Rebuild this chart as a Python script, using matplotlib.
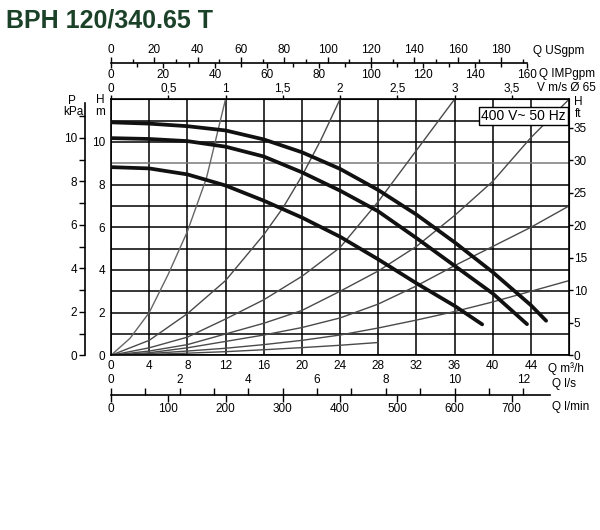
import matplotlib
matplotlib.use("Agg")
import matplotlib.pyplot as plt

plt.rcParams['font.family'] = ['Liberation Sans Narrow', 'Liberation Sans', 'DejaVu Sans']
plt.rcParams['font.size'] = 8.5

# ── Data (Q in m3/h, H in m) ────────────────────────────────────────────────

# pump curves (thick)
q_max = [0, 4, 8, 12, 16, 20, 24, 28, 32, 36, 40, 44, 45.6]
h_max = [10.92, 10.86, 10.74, 10.54, 10.12, 9.52, 8.74, 7.75, 6.6, 5.3, 3.9, 2.35, 1.62]
q_mid = [0, 4, 8, 12, 16, 20, 24, 28, 32, 36, 40, 43.6]
h_mid = [10.18, 10.14, 10.04, 9.78, 9.32, 8.58, 7.72, 6.75, 5.5, 4.2, 2.9, 1.46]
q_min = [0, 4, 8, 12, 16, 20, 24, 28, 32, 36, 38.9]
h_min = [8.82, 8.76, 8.48, 7.96, 7.25, 6.46, 5.56, 4.5, 3.38, 2.32, 1.45]

# system curves (thin)
q_s1 = [0, 2, 4, 6, 8, 10, 12]
h_s1 = [0, 0.8, 2.0, 3.8, 5.8, 8.3, 12.0]
q_s2 = [0, 4, 8, 12, 16, 18, 20, 22, 24]
h_s2 = [0, 0.7, 1.95, 3.5, 5.65, 6.9, 8.4, 10.1, 12.0]
q_s3 = [0, 4, 8, 12, 16, 20, 24, 28, 32, 36]
h_s3 = [0, 0.35, 0.85, 1.7, 2.6, 3.7, 5.05, 7.2, 9.6, 12.0]
q_s4 = [0, 4, 8, 12, 16, 20, 24, 28, 32, 36, 40, 44, 48]
h_s4 = [0, 0.2, 0.5, 1.0, 1.5, 2.1, 3.0, 3.95, 5.1, 6.55, 8.15, 10.2, 12.0]
q_s5 = [0, 4, 8, 12, 16, 20, 24, 28, 32, 36, 40, 44, 48]
h_s5 = [0, 0.12, 0.35, 0.65, 0.95, 1.3, 1.75, 2.4, 3.25, 4.2, 5.1, 6.0, 7.0]
q_s6 = [0, 4, 8, 12, 16, 20, 24, 28, 32, 36, 40, 44, 48]
h_s6 = [0, 0.08, 0.2, 0.33, 0.5, 0.7, 0.95, 1.28, 1.65, 2.05, 2.5, 3.0, 3.5]
q_s7 = [0, 4, 8, 12, 16, 20, 24, 28]
h_s7 = [0, 0.04, 0.1, 0.17, 0.26, 0.36, 0.47, 0.6]

# axis ticks / labels
q_ticks = list(range(0, 48, 4))
h_ticks = list(range(0, 12))
p_major = [0, 2, 4, 6, 8, 10]
p_minor = [1, 3, 5, 7, 9, 11]
ft_ticks = [0, 5, 10, 15, 20, 25, 30, 35]
v_ticks = [0, 0.5, 1, 1.5, 2, 2.5, 3, 3.5]
v_labels = ["0", "0,5", "1", "1,5", "2", "2,5", "3", "3,5"]
us_major = list(range(0, 200, 20))
us_minor = list(range(10, 200, 20))
imp_major = list(range(0, 180, 20))
imp_minor = list(range(10, 170, 20))
ls_major = [0, 2, 4, 6, 8, 10, 12]
ls_minor = [1, 3, 5, 7, 9, 11]
lmin_major = [0, 100, 200, 300, 400, 500, 600, 700]

# ── Layout helpers (pixel positions of the 600x530 picture) ──────────────────
W, HP = 600, 530
X0, X1, Y0, Y1 = 111, 569, 355.3, 99.3


def fx(px):
    return px / W


def fy(py):
    return 1 - py / HP


def ay(py):
    return (Y0 - py) / (Y0 - Y1)


def axx(px):
    return (px - X0) / (X1 - X0)


fig = plt.figure(figsize=(6, 5.3), dpi=100)
ax = fig.add_axes([fx(X0), fy(Y0), (X1 - X0) / W, (Y0 - Y1) / HP])
ax.set_xlim(0, 48)
ax.set_ylim(0, 12)

for s in ax.spines.values():
    s.set_linewidth(1.2)

ax.set_xticks(q_ticks, [str(q) for q in q_ticks])
ax.set_yticks(h_ticks, [str(h) if h % 2 == 0 else "" for h in h_ticks])
ax.tick_params(axis="both", length=0)
ax.tick_params(axis="x", pad=3.4)
ax.tick_params(axis="y", pad=4.3)
ax.grid(True, color="black", lw=1.1, zorder=0)
ax.yaxis.get_gridlines()[9].set_color("#7a7a7a")
ax.set_axisbelow(True)

# system curves
thin = dict(color="#4a4a4a", lw=1.0, zorder=2)
ax.plot(q_s1, h_s1, color="#666666", lw=1.0, zorder=2)
ax.plot(q_s2, h_s2, **thin)
ax.plot(q_s3, h_s3, **thin)
ax.plot(q_s4, h_s4, **thin)
ax.plot(q_s5, h_s5, **thin)
ax.plot(q_s6, h_s6, **thin)
ax.plot(q_s7, h_s7, **thin)

# pump curves
thick = dict(color="#111111", lw=2.7, zorder=3, solid_capstyle="round")
ax.plot(q_max, h_max, **thick)
ax.plot(q_mid, h_mid, **thick)
ax.plot(q_min, h_min, **thick)

ax.text(43.2, 11.2, "400 V~ 50 Hz", ha="center", va="center", fontsize=10,
        zorder=5, bbox=dict(boxstyle="square,pad=0.15", fc="white", ec="black", lw=1.0))

# ── Secondary scales ─────────────────────────────────────────────────────────
# P kPa (left)
pax = ax.secondary_yaxis(axx(85), functions=(lambda h: h * 0.981, lambda p: p / 0.981))
pax.set_yticks(p_major, [str(p) for p in p_major])
pax.set_yticks(p_minor, minor=True)
pax.tick_params(which="both", length=4, width=1, pad=1.5)
pax.spines["left"].set_linewidth(1.2)
pax.spines["left"].set_bounds(0, 11.6)

# H ft (right)
fax = ax.secondary_yaxis("right", functions=(lambda h: h * 3.2808, lambda f: f / 3.2808))
fax.set_yticks(ft_ticks, [str(f) for f in ft_ticks])
fax.tick_params(length=3, width=1, pad=0.5)

# V m/s (top of plot)
vax = ax.secondary_xaxis("top", functions=(lambda q: q / 12, lambda v: v * 12))
vax.set_xticks(v_ticks, v_labels)
vax.tick_params(length=3, width=1, pad=0.3)

# Q USgpm / Q IMPgpm (double scale on top)
loc_top = ay(63.3)
usax = ax.secondary_xaxis(loc_top, functions=(lambda q: q * 4.403, lambda g: g / 4.403))
usax.set_alignment("top")
usax.set_xticks(us_major, [str(g) for g in us_major])
usax.set_xticks(us_minor, minor=True)
usax.tick_params(which="major", length=4, width=1, pad=1.5)
usax.tick_params(which="minor", length=3, width=1)
usax.spines["top"].set_linewidth(1.2)
usax.spines["top"].set_bounds(0, 43.6 * 4.403)

impax = ax.secondary_xaxis(loc_top, functions=(lambda q: q * 3.666, lambda g: g / 3.666))
impax.set_alignment("bottom")
impax.set_xticks(imp_major, [str(g) for g in imp_major])
impax.set_xticks(imp_minor, minor=True)
impax.tick_params(which="major", length=3.5, width=1, pad=0.3)
impax.tick_params(which="minor", length=3, width=1)
impax.spines["bottom"].set_visible(False)

# Q l/s / Q l/min (double scale at bottom)
loc_bot = ay(395)
lsax = ax.secondary_xaxis(loc_bot, functions=(lambda q: q / 3.6, lambda s: s * 3.6))
lsax.set_alignment("top")
lsax.set_xticks(ls_major, [str(s) for s in ls_major])
lsax.set_xticks(ls_minor, minor=True)
lsax.tick_params(which="both", length=5, width=1, pad=1.5)
lsax.spines["top"].set_visible(False)

lmax = ax.secondary_xaxis(loc_bot, functions=(lambda q: q * 1000 / 60, lambda m: m * 60 / 1000))
lmax.set_alignment("bottom")
lmax.set_xticks(lmin_major, [str(m) for m in lmin_major])
lmax.tick_params(length=5, width=1, pad=1.0)
lmax.spines["bottom"].set_linewidth(1.2)
lmax.spines["bottom"].set_bounds(0, 46 * 1000 / 60)

# ── Unit labels and title ────────────────────────────────────────────────────
unit = dict(fontsize=8.5, va="center", ha="left")
fig.text(fx(533), fy(51), "Q USgpm", **unit)
fig.text(fx(539), fy(74), "Q IMPgpm", **unit)
fig.text(fx(537), fy(88), "V m/s Ø 65", **unit)
fig.text(fx(548), fy(369), "Q m³/h", **unit)
fig.text(fx(552), fy(384), "Q l/s", **unit)
fig.text(fx(552), fy(407), "Q l/min", **unit)
fig.text(fx(72), fy(101), "P", fontsize=8.5, ha="center", va="center")
fig.text(fx(73), fy(112), "kPa", fontsize=8.5, ha="center", va="center")
fig.text(fx(100), fy(100), "H", fontsize=8.5, ha="center", va="center")
fig.text(fx(100), fy(112), "m", fontsize=8.5, ha="center", va="center")
fig.text(fx(578), fy(102), "H", fontsize=8.5, ha="center", va="center")
fig.text(fx(578), fy(114), "ft", fontsize=8.5, ha="center", va="center")

fig.text(fx(6), fy(28), "BPH 120/340.65 T", fontsize=18, fontweight="bold",
         color="#1b4228", ha="left", va="baseline")

fig.savefig("out.png", dpi=100, facecolor="white")
